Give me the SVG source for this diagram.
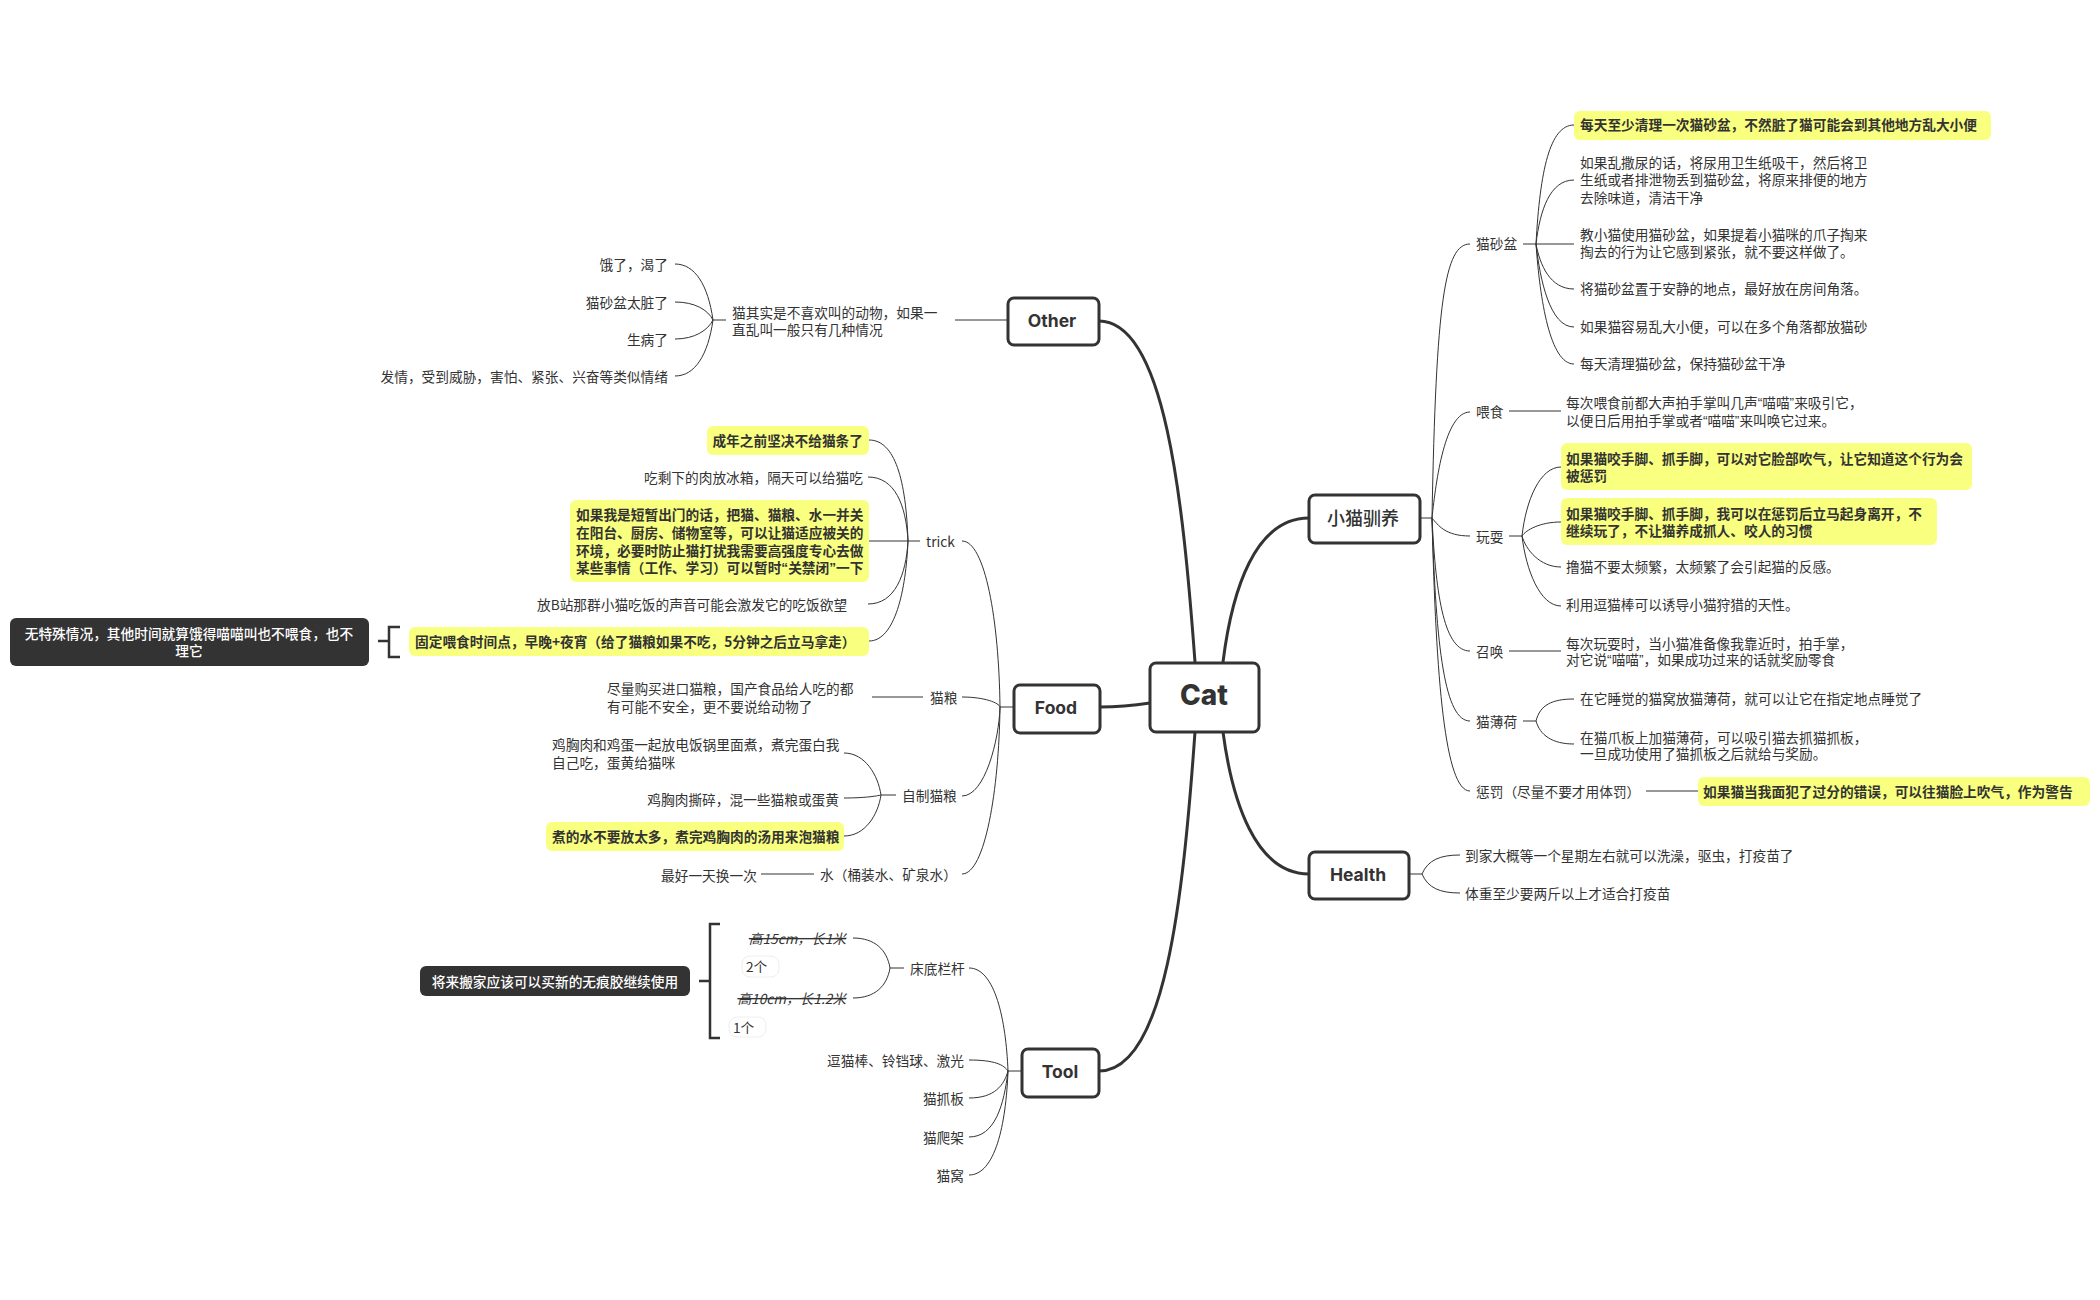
<svg xmlns="http://www.w3.org/2000/svg" width="2100" height="1300" viewBox="0 0 2100 1300">
<style>
text{font-family:"Noto Sans CJK SC","Noto Sans",sans-serif;font-size:13.7px;fill:#333;dominant-baseline:central}
.b{font-weight:700}
.e{text-anchor:end}
.m{text-anchor:middle}
.w{fill:#fff;font-weight:500}
.q{font-family:"Liberation Sans",sans-serif}
.main{font-family:"Inter","Noto Sans CJK SC",sans-serif;font-weight:700;font-size:17.5px;text-anchor:middle}
.cat{font-size:28px;font-weight:800}
.zh{font-family:"Noto Sans CJK SC",sans-serif;font-weight:500;font-size:18px}
.box{fill:#fff;stroke:#333;stroke-width:3;}
.hl{fill:#F9FF7F}
.dk{fill:#333}
.badge{fill:#fff;stroke:#eee;stroke-width:1}
.s{text-decoration:line-through;font-style:italic}
#connectors path{fill:none;stroke:#333;stroke-width:1}
#connectors .thick{stroke-width:3}
#connectors .brk{stroke-width:2.5}
</style>
<g id="connectors">
<path class="thick" d="M1223 662C1232 590 1255 518 1309 518"/>
<path class="thick" d="M1223 732C1232 800 1255 874 1309 874"/>
<path class="thick" d="M1195 662C1183 500 1165 321 1099 321"/>
<path class="thick" d="M1150 703C1130 706 1120 707 1100 707"/>
<path class="thick" d="M1195 732C1183 900 1165 1071 1099 1071"/>
<path d="M1420 518H1432M1432 518C1436 300 1445 244 1470 244M1432 518C1436 480 1445 412 1470 412M1432 518C1438 525 1445 536 1470 536M1432 518C1436 600 1445 651 1470 651M1432 518C1436 650 1445 721 1470 721M1432 518C1436 680 1445 791 1470 791"/>
<path d="M1523 244H1536M1536 244C1540 170 1550 125 1574 125M1536 244C1540 210 1550 180 1574 180M1536 244H1574M1536 244C1540 265 1550 289 1574 289M1536 244C1540 280 1550 327 1574 327M1536 244C1540 300 1550 364 1574 364"/>
<path d="M1509 411H1561"/>
<path d="M1509 536H1522M1522 536C1526 500 1540 467 1561 467M1522 536C1526 530 1540 522 1561 522M1522 536C1526 550 1540 567 1561 567M1522 536C1526 570 1540 606 1561 606"/>
<path d="M1509 651H1561"/>
<path d="M1523 721H1536M1536 721C1540 705 1552 699 1574 699M1536 721C1540 735 1552 744 1574 744"/>
<path d="M1646 791H1698"/>
<path d="M1409 874H1422M1422 874C1428 860 1440 855 1460 855M1422 874C1428 888 1440 893 1460 893"/>
<path d="M1008 320H955"/>
<path d="M726 320H713M713 320C708 285 695 264 675 264M713 320C708 310 695 302 675 302M713 320C708 330 695 339 675 339M713 320C708 355 695 376 675 376"/>
<path d="M1013 707H1000M1000 707C999 620 985 541 962 541M1000 707C999 703 985 697 962 697M1000 707C999 740 985 796 962 796M1000 707C999 790 985 874 962 874"/>
<path d="M920 541H908M869 541H908M908 541C906 480 895 440 869 440M908 541C906 505 895 477 868 477M908 541C906 575 895 604 868 604M908 541C906 590 895 641 869 641"/>
<path d="M923 697H872"/>
<path d="M896 795H881M881 795C878 775 865 753 844 753M881 795C877 796 865 798 844 798M881 795C878 815 865 836 844 836"/>
<path d="M814 874H761"/>
<path d="M1022 1071H1008M1008 1071C1006 1020 995 968 969 968M1008 1071C1004 1065 995 1060 969 1060M1008 1071C1004 1085 995 1098 969 1098M1008 1071C1004 1105 995 1137 969 1137M1008 1071C1006 1125 995 1175 969 1175"/>
<path d="M904 968H890M890 968C887 950 875 938 853 938M890 968C887 986 875 998 853 998"/>
<path class="brk" d="M378 641H388M400 627H389V657H400"/>
<path class="brk" d="M699 981H710M720 924H710V1038H720"/>
</g>
<g id="cat"><rect class="box" x="1150" y="663" width="109" height="69" rx="6"/><text class="main cat" x="1204" y="695">Cat</text></g>
<g id="training"><rect class="box" x="1309" y="495" width="111" height="48" rx="6"/><text class="main zh" x="1363" y="517">小猫驯养</text></g>
<g id="health"><rect class="box" x="1309" y="852" width="100" height="47" rx="6"/><text class="main" x="1358" y="874">Health</text></g>
<g id="other"><rect class="box" x="1008" y="298" width="91" height="47" rx="6"/><text class="main" x="1052" y="320">Other</text></g>
<g id="food"><rect class="box" x="1014" y="685" width="86" height="48" rx="6"/><text class="main" x="1056" y="707">Food</text></g>
<g id="tool"><rect class="box" x="1022" y="1049" width="77" height="48" rx="6"/><text class="main" x="1060" y="1071">Tool</text></g>

<g id="litter"><text x="1476" y="243">猫砂盆</text></g>
<g id="litter-1"><rect class="hl" x="1574" y="111" width="417" height="29" rx="6"/><text class="b" x="1580" y="124">每天至少清理一次猫砂盆，不然脏了猫可能会到其他地方乱大小便</text></g>
<g id="litter-2"><text x="1580" y="162">如果乱撒尿的话，将尿用卫生纸吸干，然后将卫</text><text x="1580" y="179">生纸或者排泄物丢到猫砂盆，将原来排便的地方</text><text x="1580" y="197">去除味道，清洁干净</text></g>
<g id="litter-3"><text x="1580" y="234">教小猫使用猫砂盆，如果提着小猫咪的爪子掏来</text><text x="1580" y="251">掏去的行为让它感到紧张，就不要这样做了。</text></g>
<g id="litter-4"><text x="1580" y="288">将猫砂盆置于安静的地点，最好放在房间角落。</text></g>
<g id="litter-5"><text x="1580" y="326">如果猫容易乱大小便，可以在多个角落都放猫砂</text></g>
<g id="litter-6"><text x="1580" y="363">每天清理猫砂盆，保持猫砂盆干净</text></g>
<g id="feed"><text x="1476" y="411">喂食</text></g>
<g id="feed-1"><text x="1566" y="402">每次喂食前都大声拍手掌叫几声<tspan class="q">“</tspan>喵喵<tspan class="q">”</tspan>来吸引它，</text><text x="1566" y="420">以便日后用拍手掌或者<tspan class="q">“</tspan>喵喵<tspan class="q">”</tspan>来叫唤它过来。</text></g>
<g id="play"><text x="1476" y="536">玩耍</text></g>
<g id="play-1"><rect class="hl" x="1561" y="443" width="411" height="47" rx="6"/><text class="b" x="1566" y="458">如果猫咬手脚、抓手脚，可以对它脸部吹气，让它知道这个行为会</text><text class="b" x="1566" y="475">被惩罚</text></g>
<g id="play-2"><rect class="hl" x="1561" y="498" width="376" height="47" rx="6"/><text class="b" x="1566" y="513">如果猫咬手脚、抓手脚，我可以在惩罚后立马起身离开，不</text><text class="b" x="1566" y="530">继续玩了，不让猫养成抓人、咬人的习惯</text></g>
<g id="play-3"><text x="1566" y="566">撸猫不要太频繁，太频繁了会引起猫的反感。</text></g>
<g id="play-4"><text x="1566" y="604">利用逗猫棒可以诱导小猫狩猎的天性。</text></g>
<g id="call"><text x="1476" y="651">召唤</text></g>
<g id="call-1"><text x="1566" y="643">每次玩耍时，当小猫准备像我靠近时，拍手掌，</text><text x="1566" y="659">对它说<tspan class="q">“</tspan>喵喵<tspan class="q">”</tspan>，如果成功过来的话就奖励零食</text></g>
<g id="catnip"><text x="1476" y="721">猫薄荷</text></g>
<g id="catnip-1"><text x="1580" y="698">在它睡觉的猫窝放猫薄荷，就可以让它在指定地点睡觉了</text></g>
<g id="catnip-2"><text x="1580" y="737">在猫爪板上加猫薄荷，可以吸引猫去抓猫抓板，</text><text x="1580" y="753">一旦成功使用了猫抓板之后就给与奖励。</text></g>
<g id="punish"><text x="1476" y="791">惩罚（尽量不要才用体罚）</text></g>
<g id="punish-1"><rect class="hl" x="1698" y="777" width="392" height="29" rx="6"/><text class="b" x="1703" y="791">如果猫当我面犯了过分的错误，可以往猫脸上吹气，作为警告</text></g>
<g id="health-1"><text x="1465" y="855">到家大概等一个星期左右就可以洗澡，驱虫，打疫苗了</text></g>
<g id="health-2"><text x="1465" y="893">体重至少要两斤以上才适合打疫苗</text></g>

<g id="other-0"><text x="732" y="312">猫其实是不喜欢叫的动物，如果一</text><text x="732" y="329">直乱叫一般只有几种情况</text></g>
<g id="other-1"><text class="e" x="668" y="264">饿了，渴了</text></g>
<g id="other-2"><text class="e" x="668" y="302">猫砂盆太脏了</text></g>
<g id="other-3"><text class="e" x="668" y="339">生病了</text></g>
<g id="other-4"><text class="e" x="668" y="376">发情，受到威胁，害怕、紧张、兴奋等类似情绪</text></g>

<g id="trick"><text x="926" y="541">trick</text></g>
<g id="trick-1"><rect class="hl" x="707" y="426" width="162" height="29" rx="6"/><text class="b e" x="863" y="440">成年之前坚决不给猫条了</text></g>
<g id="trick-2"><text class="e" x="863" y="477">吃剩下的肉放冰箱，隔天可以给猫吃</text></g>
<g id="trick-3"><rect class="hl" x="570" y="500" width="299" height="82" rx="6"/><text class="b" x="576" y="514">如果我是短暂出门的话，把猫、猫粮、水一并关</text><text class="b" x="576" y="532">在阳台、厨房、储物室等，可以让猫适应被关的</text><text class="b" x="576" y="550">环境，必要时防止猫打扰我需要高强度专心去做</text><text class="b" x="576" y="567">某些事情（工作、学习）可以暂时<tspan class="q">“</tspan>关禁闭<tspan class="q">”</tspan>一下</text></g>
<g id="trick-4"><text x="537" y="604">放B站那群小猫吃饭的声音可能会激发它的吃饭欲望</text></g>
<g id="trick-5"><rect class="hl" x="409" y="627" width="460" height="29" rx="6"/><text class="b" x="415" y="641">固定喂食时间点，早晚+夜宵（给了猫粮如果不吃，5分钟之后立马拿走）</text></g>
<g id="trick-note"><rect class="dk" x="10" y="618" width="359" height="48" rx="6"/><text class="w m" x="189" y="633">无特殊情况，其他时间就算饿得喵喵叫也不喂食，也不</text><text class="w m" x="189" y="650">理它</text></g>
<g id="kibble"><text x="930" y="697">猫粮</text></g>
<g id="kibble-1"><text x="607" y="688">尽量购买进口猫粮，国产食品给人吃的都</text><text x="607" y="706">有可能不安全，更不要说给动物了</text></g>
<g id="homemade"><text x="902" y="795">自制猫粮</text></g>
<g id="homemade-1"><text x="552" y="744">鸡胸肉和鸡蛋一起放电饭锅里面煮，煮完蛋白我</text><text x="552" y="762">自己吃，蛋黄给猫咪</text></g>
<g id="homemade-2"><text class="e" x="839" y="799">鸡胸肉撕碎，混一些猫粮或蛋黄</text></g>
<g id="homemade-3"><rect class="hl" x="546" y="822" width="298" height="29" rx="6"/><text class="b" x="552" y="836">煮的水不要放太多，煮完鸡胸肉的汤用来泡猫粮</text></g>
<g id="water"><text x="820" y="874">水（桶装水、矿泉水）</text></g>
<g id="water-1"><text x="661" y="875">最好一天换一次</text></g>

<g id="rail"><text x="910" y="968">床底栏杆</text></g>
<g id="rail-1"><text class="s e" x="846" y="938">高15cm，长1米</text></g>
<g id="rail-1-badge"><rect class="badge" x="742" y="956" width="37" height="21" rx="8"/><text x="746" y="966">2个</text></g>
<g id="rail-2"><text class="s e" x="846" y="998">高10cm，长1.2米</text></g>
<g id="rail-2-badge"><rect class="badge" x="729" y="1017" width="37" height="20" rx="8"/><text x="733" y="1027">1个</text></g>
<g id="rail-note"><rect class="dk" x="420" y="966" width="270" height="30" rx="6"/><text class="w m" x="555" y="981">将来搬家应该可以买新的无痕胶继续使用</text></g>
<g id="tool-2"><text class="e" x="964" y="1060">逗猫棒、铃铛球、激光</text></g>
<g id="tool-3"><text class="e" x="964" y="1098">猫抓板</text></g>
<g id="tool-4"><text class="e" x="964" y="1137">猫爬架</text></g>
<g id="tool-5"><text class="e" x="964" y="1175">猫窝</text></g>
</svg>
